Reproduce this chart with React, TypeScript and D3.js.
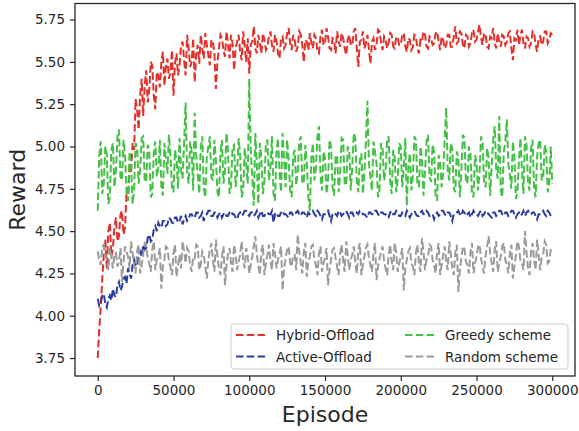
import * as d3 from "d3";
import React, { useRef, useEffect } from "react";

// one reading every 1000 episodes, 0 .. 300000 (10 per row)
const EPISODE_STEP = 1000;

const hybridOffload = [
  3.75, 3.92, 4.05, 4.22, 4.36, 4.45, 4.28, 4.50, 4.55, 4.35,
  4.40, 4.52, 4.58, 4.44, 4.47, 4.60, 4.62, 4.48, 4.52, 4.72,
  4.68, 4.88, 4.85, 5.02, 4.98, 5.28, 5.22, 5.10, 5.30, 5.40,
  5.18, 5.36, 5.45, 5.26, 5.33, 5.50, 5.48, 5.30, 5.22, 5.44,
  5.42, 5.35, 5.50, 5.56, 5.36, 5.47, 5.52, 5.40, 5.44, 5.57,
  5.30, 5.49, 5.55, 5.42, 5.48, 5.60, 5.62, 5.51, 5.42, 5.66,
  5.58, 5.47, 5.50, 5.64, 5.38, 5.55, 5.60, 5.49, 5.66, 5.58,
  5.52, 5.67, 5.60, 5.54, 5.48, 5.63, 5.62, 5.55, 5.34, 5.50,
  5.58, 5.66, 5.64, 5.57, 5.53, 5.68, 5.60, 5.52, 5.66, 5.61,
  5.45, 5.58, 5.62, 5.66, 5.56, 5.51, 5.68, 5.60, 5.50, 5.64,
  5.43, 5.60, 5.62, 5.71, 5.58, 5.55, 5.66, 5.61, 5.55, 5.67,
  5.63, 5.57, 5.59, 5.65, 5.68, 5.60, 5.56, 5.66, 5.62, 5.55,
  5.52, 5.64, 5.65, 5.58, 5.60, 5.67, 5.70, 5.61, 5.57, 5.66,
  5.63, 5.56, 5.59, 5.68, 5.66, 5.60, 5.50, 5.63, 5.62, 5.57,
  5.67, 5.61, 5.58, 5.66, 5.64, 5.56, 5.55, 5.65, 5.69, 5.60,
  5.61, 5.70, 5.65, 5.58, 5.57, 5.64, 5.63, 5.55, 5.68, 5.62,
  5.59, 5.67, 5.64, 5.58, 5.54, 5.63, 5.66, 5.60, 5.60, 5.68,
  5.70, 5.58, 5.47, 5.62, 5.63, 5.68, 5.58, 5.61, 5.66, 5.57,
  5.49, 5.62, 5.64, 5.57, 5.60, 5.69, 5.68, 5.61, 5.57, 5.65,
  5.63, 5.58, 5.61, 5.67, 5.66, 5.59, 5.58, 5.65, 5.64, 5.60,
  5.60, 5.66, 5.67, 5.59, 5.56, 5.64, 5.63, 5.57, 5.59, 5.66,
  5.65, 5.58, 5.55, 5.63, 5.62, 5.68, 5.66, 5.59, 5.58, 5.65,
  5.64, 5.60, 5.61, 5.67, 5.68, 5.62, 5.57, 5.65, 5.63, 5.58,
  5.60, 5.66, 5.66, 5.59, 5.59, 5.65, 5.71, 5.61, 5.62, 5.68,
  5.67, 5.60, 5.58, 5.66, 5.65, 5.59, 5.61, 5.67, 5.69, 5.62,
  5.63, 5.68, 5.72, 5.64, 5.60, 5.67, 5.66, 5.59, 5.58, 5.65,
  5.64, 5.70, 5.61, 5.58, 5.67, 5.62, 5.59, 5.66, 5.65, 5.60,
  5.62, 5.67, 5.68, 5.58, 5.51, 5.64, 5.63, 5.69, 5.60, 5.66,
  5.69, 5.61, 5.58, 5.65, 5.64, 5.59, 5.61, 5.68, 5.67, 5.60,
  5.56, 5.64, 5.65, 5.60, 5.62, 5.68, 5.68, 5.61, 5.63, 5.67,
  5.66,
];

const activeOffload = [
  4.10, 4.06, 4.08, 4.12, 4.13, 4.07, 4.05, 4.10, 4.12, 4.09,
  4.16, 4.12, 4.11, 4.18, 4.20, 4.15, 4.17, 4.22, 4.23, 4.19,
  4.28, 4.25, 4.22, 4.30, 4.33, 4.29, 4.30, 4.37, 4.38, 4.35,
  4.42, 4.39, 4.40, 4.46, 4.48, 4.44, 4.45, 4.51, 4.53, 4.50,
  4.55, 4.53, 4.52, 4.56, 4.56, 4.53, 4.54, 4.58, 4.57, 4.55,
  4.55, 4.58, 4.58, 4.55, 4.56, 4.59, 4.54, 4.57, 4.59, 4.56,
  4.57, 4.60, 4.60, 4.58, 4.58, 4.61, 4.61, 4.58, 4.59, 4.61,
  4.56, 4.59, 4.60, 4.62, 4.62, 4.59, 4.59, 4.61, 4.61, 4.58,
  4.60, 4.61, 4.58, 4.60, 4.61, 4.59, 4.59, 4.61, 4.62, 4.60,
  4.60, 4.58, 4.57, 4.60, 4.61, 4.59, 4.60, 4.62, 4.62, 4.60,
  4.59, 4.61, 4.61, 4.59, 4.60, 4.62, 4.58, 4.60, 4.62, 4.59,
  4.59, 4.61, 4.61, 4.60, 4.60, 4.62, 4.55, 4.60, 4.61, 4.59,
  4.59, 4.61, 4.62, 4.60, 4.60, 4.59, 4.58, 4.61, 4.61, 4.59,
  4.60, 4.61, 4.62, 4.60, 4.59, 4.61, 4.61, 4.60, 4.58, 4.61,
  4.60, 4.61, 4.62, 4.60, 4.59, 4.62, 4.61, 4.59, 4.57, 4.60,
  4.60, 4.61, 4.62, 4.59, 4.56, 4.60, 4.61, 4.60, 4.59, 4.62,
  4.61, 4.59, 4.60, 4.61, 4.62, 4.60, 4.58, 4.61, 4.61, 4.59,
  4.59, 4.61, 4.60, 4.62, 4.62, 4.60, 4.60, 4.59, 4.58, 4.61,
  4.61, 4.60, 4.60, 4.62, 4.62, 4.60, 4.59, 4.61, 4.61, 4.60,
  4.60, 4.58, 4.58, 4.61, 4.62, 4.60, 4.60, 4.62, 4.61, 4.59,
  4.59, 4.61, 4.60, 4.59, 4.62, 4.60, 4.58, 4.60, 4.61, 4.62,
  4.60, 4.59, 4.59, 4.61, 4.62, 4.60, 4.60, 4.62, 4.61, 4.59,
  4.59, 4.60, 4.57, 4.60, 4.61, 4.59, 4.60, 4.62, 4.62, 4.60,
  4.59, 4.61, 4.61, 4.59, 4.56, 4.60, 4.60, 4.61, 4.62, 4.60,
  4.59, 4.62, 4.61, 4.59, 4.60, 4.61, 4.58, 4.60, 4.62, 4.60,
  4.60, 4.59, 4.61, 4.62, 4.59, 4.60, 4.62, 4.61, 4.60, 4.59,
  4.58, 4.61, 4.61, 4.59, 4.60, 4.62, 4.62, 4.60, 4.59, 4.61,
  4.61, 4.59, 4.60, 4.62, 4.62, 4.60, 4.58, 4.60, 4.61, 4.59,
  4.60, 4.62, 4.59, 4.61, 4.62, 4.60, 4.60, 4.61, 4.61, 4.59,
  4.57, 4.60, 4.60, 4.61, 4.62, 4.60, 4.59, 4.62, 4.61, 4.59,
  4.60,
];

const greedyScheme = [
  4.62, 4.95, 5.03, 4.72, 4.78, 5.00, 4.95, 4.66, 4.70, 4.98,
  5.02, 4.76, 4.85, 5.06, 5.10, 4.82, 4.80, 5.04, 4.96, 4.73,
  4.68, 4.97, 4.90, 4.66, 4.74, 5.02, 5.00, 4.78, 4.86, 5.05,
  5.06, 4.80, 4.79, 5.01, 4.98, 4.70, 4.72, 4.96, 5.03, 4.82,
  4.88, 5.04, 4.76, 4.71, 5.02, 4.93, 4.84, 5.07, 4.95, 4.76,
  4.73, 4.98, 4.92, 4.75, 5.05, 4.86, 4.81, 5.02, 5.26, 4.85,
  4.78, 5.03, 4.97, 4.74, 5.20, 4.95, 4.83, 4.72, 4.99, 5.06,
  4.75, 4.70, 4.94, 5.00, 5.06, 4.82, 4.80, 5.04, 4.92, 4.73,
  4.70, 4.96, 5.04, 4.78, 4.86, 5.08, 4.97, 4.72, 4.77, 5.00,
  5.01, 4.76, 4.84, 5.05, 4.95, 4.70, 4.74, 4.99, 4.90, 4.78,
  5.40, 4.98, 4.82, 4.65, 5.08, 4.90, 4.66, 5.02, 4.93, 4.72,
  4.79, 5.02, 5.04, 4.80, 4.88, 5.06, 4.72, 4.68, 4.97, 5.05,
  4.84, 4.73, 5.08, 4.92, 4.76, 5.04, 4.92, 4.74, 4.70, 4.95,
  4.98, 4.77, 4.85, 5.03, 5.06, 4.79, 4.78, 5.01, 4.90, 4.70,
  4.62, 4.93, 5.02, 4.80, 4.87, 5.06, 5.12, 4.84, 4.74, 4.97,
  4.93, 4.72, 4.80, 5.04, 5.00, 4.76, 4.71, 4.94, 4.95, 4.73,
  4.84, 5.05, 5.04, 4.78, 4.77, 5.00, 4.98, 4.74, 4.88, 5.08,
  5.05, 4.80, 4.73, 4.92, 4.96, 4.72, 4.85, 5.03, 5.27, 4.90,
  4.82, 4.74, 5.03, 4.97, 4.90, 4.70, 4.75, 5.02, 4.99, 4.80,
  4.86, 5.04, 5.06, 4.80, 4.72, 4.98, 4.94, 4.73, 4.81, 5.02,
  5.00, 4.76, 4.87, 5.05, 4.65, 4.88, 4.96, 4.74, 4.83, 5.06,
  5.04, 4.78, 4.76, 5.00, 4.92, 4.71, 4.85, 5.03, 5.07, 4.82,
  4.79, 5.01, 4.97, 4.70, 4.68, 4.95, 4.90, 4.76, 4.84, 5.04,
  5.23, 4.86, 4.80, 5.02, 4.99, 4.75, 4.73, 4.97, 4.94, 4.70,
  4.86, 5.07, 5.05, 4.80, 4.78, 5.00, 4.96, 4.72, 4.70, 4.95,
  4.91, 4.74, 4.85, 5.06, 5.02, 4.78, 4.76, 4.99, 4.93, 4.71,
  4.88, 5.04, 5.12, 4.86, 4.81, 5.18, 4.74, 4.70, 4.97, 5.03,
  5.16, 4.90, 4.83, 4.75, 5.03, 4.94, 4.69, 4.73, 4.92, 5.05,
  4.86, 4.72, 5.06, 5.01, 4.78, 4.74, 4.99, 5.04, 4.75, 4.70,
  4.94, 5.02, 5.04, 4.80, 4.82, 5.01, 4.97, 4.73, 4.78, 5.00,
  4.78,
];

const randomScheme = [
  4.38, 4.33, 4.30, 4.41, 4.42, 4.36, 4.33, 4.27, 4.40, 4.35,
  4.28, 4.36, 4.37, 4.29, 4.32, 4.40, 4.20, 4.31, 4.41, 4.38,
  4.35, 4.28, 4.44, 4.37, 4.30, 4.25, 4.38, 4.42, 4.25, 4.30,
  4.36, 4.43, 4.42, 4.34, 4.31, 4.26, 4.39, 4.44, 4.27, 4.33,
  4.35, 4.40, 4.16, 4.29, 4.33, 4.41, 4.40, 4.32, 4.29, 4.24,
  4.37, 4.42, 4.23, 4.30, 4.36, 4.28, 4.44, 4.38, 4.31, 4.40,
  4.38, 4.30, 4.26, 4.35, 4.34, 4.42, 4.41, 4.27, 4.30, 4.38,
  4.36, 4.29, 4.22, 4.33, 4.39, 4.43, 4.33, 4.26, 4.45, 4.35,
  4.28, 4.24, 4.35, 4.41, 4.18, 4.30, 4.37, 4.40, 4.31, 4.26,
  4.42, 4.36, 4.27, 4.32, 4.36, 4.44, 4.33, 4.28, 4.40, 4.35,
  4.25, 4.30, 4.35, 4.41, 4.47, 4.36, 4.30, 4.24, 4.38, 4.42,
  4.24, 4.31, 4.36, 4.42, 4.32, 4.27, 4.43, 4.37, 4.28, 4.33,
  4.37, 4.41, 4.15, 4.28, 4.34, 4.39, 4.41, 4.31, 4.29, 4.36,
  4.36, 4.27, 4.48, 4.38, 4.31, 4.25, 4.38, 4.43, 4.23, 4.32,
  4.35, 4.41, 4.42, 4.33, 4.30, 4.24, 4.37, 4.41, 4.26, 4.31,
  4.34, 4.40, 4.18, 4.27, 4.33, 4.39, 4.40, 4.34, 4.29, 4.24,
  4.37, 4.42, 4.32, 4.26, 4.44, 4.36, 4.27, 4.33, 4.36, 4.41,
  4.31, 4.25, 4.39, 4.43, 4.24, 4.30, 4.35, 4.40, 4.42, 4.34,
  4.30, 4.26, 4.37, 4.43, 4.21, 4.29, 4.34, 4.38, 4.41, 4.32,
  4.28, 4.24, 4.36, 4.42, 4.32, 4.27, 4.43, 4.37, 4.26, 4.31,
  4.35, 4.40, 4.15, 4.28, 4.33, 4.38, 4.40, 4.31, 4.29, 4.24,
  4.37, 4.42, 4.31, 4.26, 4.46, 4.38, 4.27, 4.33, 4.35, 4.42,
  4.41, 4.33, 4.30, 4.25, 4.38, 4.43, 4.24, 4.30, 4.36, 4.41,
  4.32, 4.27, 4.44, 4.37, 4.28, 4.24, 4.37, 4.42, 4.14, 4.27,
  4.34, 4.41, 4.40, 4.32, 4.30, 4.25, 4.38, 4.43, 4.25, 4.31,
  4.35, 4.41, 4.42, 4.34, 4.29, 4.25, 4.36, 4.41, 4.47, 4.37,
  4.31, 4.26, 4.39, 4.44, 4.26, 4.31, 4.35, 4.41, 4.43, 4.33,
  4.30, 4.25, 4.37, 4.42, 4.22, 4.29, 4.36, 4.44, 4.41, 4.32,
  4.31, 4.27, 4.50, 4.38, 4.28, 4.24, 4.38, 4.43, 4.33, 4.27,
  4.45, 4.36, 4.27, 4.34, 4.36, 4.44, 4.42, 4.31, 4.32, 4.39,
  4.40,
];

const seriesNames = ["Hybrid-Offload", "Active-Offload", "Greedy scheme", "Random scheme"];
const seriesValues = [hybridOffload, activeOffload, greedyScheme, randomScheme];
const seriesColors = ["#e2312a", "#2b3c9e", "#45c047", "#9b9b9b"];

const xTicks = [0, 50000, 100000, 150000, 200000, 250000, 300000];
const yTicks = [3.75, 4.0, 4.25, 4.5, 4.75, 5.0, 5.25, 5.5, 5.75];

const App = () => {
  const d3Container = useRef(null);
  const svgWidth = 579;
  const svgHeight = 431;
  const margin = { top: 3.5, right: 4, bottom: 55, left: 75 };
  const font = "DejaVu Sans, sans-serif";
  const dash = "7.5,3.3";

  useEffect(() => {
    const svg = d3.select(d3Container.current);
    svg.selectAll("*").remove();

    const x = d3.scaleLinear()
      .domain([-15000, 315000])
      .range([margin.left, svgWidth - margin.right]);
    const y = d3.scaleLinear()
      .domain([3.644, 5.845])
      .range([svgHeight - margin.bottom, margin.top]);

    const line = d3.line()
      .x((d, i) => x(i * EPISODE_STEP))
      .y((d) => y(d));

    // series
    seriesValues.forEach((vals, k) => {
      svg.append("path")
        .attr("d", line(vals))
        .attr("fill", "none")
        .attr("stroke", seriesColors[k])
        .attr("stroke-width", 2)
        .attr("stroke-dasharray", dash);
    });

    // axes
    const xAxis = svg.append("g")
      .attr("transform", "translate(0," + (svgHeight - margin.bottom) + ")")
      .call(d3.axisBottom(x).tickValues(xTicks).tickFormat(d3.format("d")).tickSize(5).tickSizeOuter(0).tickPadding(4));
    const yAxis = svg.append("g")
      .attr("transform", "translate(" + margin.left + ",0)")
      .call(d3.axisLeft(y).tickValues(yTicks).tickFormat(d3.format(".2f")).tickSize(5).tickSizeOuter(0).tickPadding(5));

    [xAxis, yAxis].forEach((g) => {
      g.select(".domain").remove();
      g.selectAll(".tick line").attr("stroke", "#262626").attr("stroke-width", 1.2);
      g.selectAll(".tick text")
        .attr("fill", "#262626")
        .style("font-family", font)
        .style("font-size", "13.5px");
    });

    // frame
    svg.append("rect")
      .attr("x", margin.left)
      .attr("y", margin.top)
      .attr("width", svgWidth - margin.left - margin.right)
      .attr("height", svgHeight - margin.top - margin.bottom)
      .attr("fill", "none")
      .attr("stroke", "#262626")
      .attr("stroke-width", 1.3);

    // axis titles
    svg.append("text")
      .attr("x", (margin.left + svgWidth - margin.right) / 2)
      .attr("y", 422)
      .attr("text-anchor", "middle")
      .attr("fill", "#262626")
      .style("font-family", font)
      .style("font-size", "22px")
      .text("Episode");
    svg.append("text")
      .attr("transform", "translate(25," + (margin.top + svgHeight - margin.bottom) / 2 + ") rotate(-90)")
      .attr("text-anchor", "middle")
      .attr("fill", "#262626")
      .style("font-family", font)
      .style("font-size", "22px")
      .text("Reward");

    // legend
    const legend = svg.append("g");
    legend.append("rect")
      .attr("x", 231).attr("y", 324)
      .attr("width", 337).attr("height", 45)
      .attr("rx", 3)
      .attr("fill", "white").attr("fill-opacity", 0.8)
      .attr("stroke", "#cccccc");
    const cols = [236, 405];
    const rows = [335, 356.5];
    seriesNames.forEach((name, k) => {
      const cx = cols[Math.floor(k / 2)];
      const cy = rows[k % 2];
      legend.append("line")
        .attr("x1", cx).attr("x2", cx + 30)
        .attr("y1", cy).attr("y2", cy)
        .attr("stroke", seriesColors[k])
        .attr("stroke-width", 2)
        .attr("stroke-dasharray", dash);
      legend.append("text")
        .attr("x", cx + 40)
        .attr("y", cy + 5)
        .attr("fill", "#262626")
        .style("font-family", font)
        .style("font-size", "13.5px")
        .text(name);
    });
  }, []);

  return (
    <svg
      ref={d3Container}
      width={svgWidth}
      height={svgHeight}
      style={{ position: "absolute", left: 0, top: 0, background: "white" }}
    />
  );
};

export default App;
